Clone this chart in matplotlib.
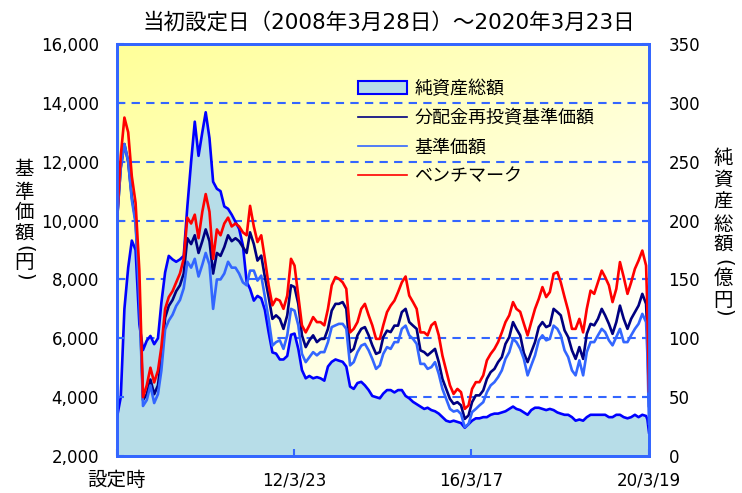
import matplotlib
matplotlib.use("Agg")
import matplotlib.pyplot as plt
import numpy as np
import pandas as pd
from matplotlib.patches import Patch
from matplotlib.lines import Line2D

plt.rcParams['font.family'] = ['DejaVu Sans', 'Noto Sans CJK JP']

# ── data (roughly one point per month) ───────────────────────────────────────
dates = list(pd.date_range("2008-03-28", periods=144, freq=pd.DateOffset(months=1))) \
        + [pd.Timestamp("2020-03-10"), pd.Timestamp("2020-03-23")]

# ベンチマーク (円)
benchmark = [
    10000, 12200, 13500, 13000, 11500, 10600, 8300, 4000, 4400, 5000,
    4500, 4900, 5700, 7000, 7400, 7600, 7900, 8200, 8700, 10100,
    9900, 10200, 9400, 10300, 10900, 10300, 8700, 9700, 9500, 9900,
    10100, 9800, 9900, 9800, 9600, 9500, 10500, 9800, 9270, 9500,
    8700, 7800, 7120, 7340, 7280, 7000, 7450, 8700, 8470, 7450,
    6440, 6200, 6440, 6720, 6550, 6550, 6440, 7000, 7800, 8080,
    8020, 7900, 7680, 6200, 6320, 6550, 7000, 7170, 6780, 6440,
    5980, 5980, 6440, 6890, 7110, 7280, 7570, 7900, 8100, 7450,
    7230, 7000, 6200, 6200, 6100, 6440, 6550, 6100, 5410, 4900,
    4400, 4110, 4280, 4170, 3600, 3720, 4280, 4510, 4510, 4740,
    5250, 5470, 5640, 5870, 6200, 6550, 6780, 7230, 7000, 6900,
    6500, 6100, 6550, 7000, 7340, 7740, 7400, 7570, 8190, 8250,
    7900, 7400, 6940, 6320, 6320, 6660, 6200, 7000, 7620, 7510,
    7900, 8300, 8080, 7800, 7230, 7680, 8590, 8080, 7510, 7900,
    8360, 8640, 8980, 8470, 6890, 4200,
]

# 分配金再投資基準価額 (円)
nav_reinvested = [
    10000, 11800, 12600, 12000, 10800, 10000, 7500, 3900, 4100, 4600,
    4100, 4400, 5300, 6700, 7100, 7300, 7600, 7800, 8200, 9400,
    9200, 9500, 8900, 9300, 9700, 9300, 8200, 8900, 8800, 9100,
    9500, 9300, 9400, 9300, 9100, 8900, 9600, 9200, 8640, 8810,
    8080, 7400, 6660, 6780, 6660, 6320, 6780, 7800, 7740, 7170,
    6100, 5700, 5930, 6100, 5870, 5980, 5980, 6320, 6940, 7170,
    7170, 7230, 7000, 5530, 5640, 6100, 6320, 6380, 6100, 5760,
    5470, 5530, 6040, 6260, 6210, 6430, 6430, 6890, 7000, 6550,
    6430, 6320, 5590, 5530, 5420, 5530, 5640, 5190, 4620, 4280,
    3940, 3770, 3830, 3720, 3260, 3380, 3830, 4060, 4060, 4230,
    4620, 4850, 4960, 5190, 5360, 5810, 6040, 6550, 6320, 6100,
    5500, 5190, 5530, 5870, 6380, 6550, 6380, 6440, 7000, 6890,
    6780, 6270, 6040, 5590, 5300, 5700, 5300, 6150, 6490, 6440,
    6660, 7000, 6780, 6490, 6150, 6550, 7110, 6660, 6320, 6660,
    6890, 7110, 7510, 7170, 6100, 3700,
]

# 基準価額 (円)
nav = [
    10000, 11800, 12600, 12000, 10700, 9900, 7300, 3700, 3900, 4400,
    3800, 4100, 4900, 6300, 6600, 6800, 7100, 7300, 7700, 8600,
    8400, 8700, 8100, 8500, 8900, 8500, 7000, 8000, 8000, 8200,
    8600, 8400, 8400, 8200, 7900, 7800, 8300, 8300, 7960, 8130,
    7400, 6660, 5750, 5870, 5930, 5640, 6100, 7000, 6940, 6440,
    5470, 5190, 5360, 5530, 5420, 5530, 5530, 5870, 6380, 6440,
    6490, 6490, 6320, 5080, 5190, 5530, 5750, 5810, 5590, 5300,
    4960, 5080, 5470, 5700, 5640, 5870, 5870, 6320, 6430, 6100,
    5980, 5810, 5130, 5130, 4960, 5020, 5190, 4790, 4280, 3940,
    3600, 3510, 3550, 3430, 2980, 3090, 3490, 3600, 3720, 3830,
    4170, 4400, 4510, 4680, 4910, 5300, 5530, 5980, 5870, 5640,
    5300, 4740, 5080, 5420, 5930, 6100, 5930, 5980, 6430, 6320,
    6100, 5590, 5360, 4910, 4740, 5250, 4740, 5530, 5870, 5870,
    6100, 6320, 6210, 5930, 5760, 6040, 6320, 5870, 5870, 6100,
    6320, 6490, 6830, 6550, 5420, 3100,
]

# 純資産総額 (億円)
net_assets = [
    33, 50, 125, 160, 183, 175, 112, 90, 98, 102,
    95, 100, 130, 156, 170, 167, 165, 167, 170, 212,
    250, 284, 255, 275, 292, 270, 233, 227, 225, 212,
    210, 205, 199, 193, 179, 148, 142, 132, 136, 134,
    124, 105, 88, 87, 82, 82, 85, 103, 104, 91,
    73, 66, 68, 66, 67, 66, 64, 76, 80, 82,
    81, 80, 76, 59, 57, 62, 63, 60, 56, 51,
    50, 49, 53, 56, 56, 54, 56, 56, 51, 49,
    46, 44, 42, 40, 41, 39, 38, 36, 33, 30,
    29, 30, 29, 28, 24, 27, 30, 32, 32, 33,
    33, 35, 36, 36, 37, 38, 40, 42, 40, 39,
    37, 35, 39, 41, 41, 40, 39, 40, 39, 37,
    36, 35, 35, 33, 30, 31, 30, 33, 35, 35,
    35, 35, 35, 33, 33, 35, 35, 33, 32, 33,
    35, 33, 35, 34, 31, 20,
]

x_tick_dates = [pd.Timestamp(d) for d in ["2008-03-28", "2012-03-23", "2016-03-17", "2020-03-19"]]
x_tick_labels = ["設定時", "12/3/23", "16/3/17", "20/3/19"]
left_ticks = list(range(2000, 16001, 2000))
left_tick_labels = [f"{v:,}" for v in left_ticks]
right_ticks = list(range(0, 351, 50))
right_tick_labels = [str(v) for v in right_ticks]

title = "当初設定日（2008年3月28日）～2020年3月23日"
legend_labels = ["純資産総額", "分配金再投資基準価額", "基準価額", "ベンチマーク"]

# ── styles ───────────────────────────────────────────────────────────────────
FRAME = "#3366FF"
C_FILL, C_NET = "#B7DDE8", "#0000FF"
C_REINV, C_NAV, C_BM = "#000080", "#3366FF", "#FF0000"

W, H = 742, 493
fig = plt.figure(figsize=(W / 100, H / 100), dpi=100)
fig.patch.set_facecolor("white")
rect = [117 / W, (H - 456) / H, (649 - 117) / W, (456 - 44) / H]

# background gradient (yellow top-left -> white bottom-right)
bg = fig.add_axes(rect, zorder=0)
gx, gy = np.meshgrid(np.linspace(0, 1, 300), np.linspace(0, 1, 200))
w = np.clip(1 - (0.5 * gx + 0.7 * gy), 0, 1)
img = np.dstack([np.ones_like(w), np.ones_like(w), 1 - 0.4 * w])
bg.imshow(img, aspect="auto", extent=[0, 1, 0, 1], origin="upper")
bg.axis("off")

ax = fig.add_axes(rect, zorder=2)
ax2 = ax.twinx()
ax2.set_zorder(1)
ax.patch.set_visible(False)
ax2.patch.set_visible(False)

# net assets area (right axis)
ax2.fill_between(dates, net_assets, 0, color=C_FILL, lw=0, zorder=2)
ax2.plot(dates, net_assets, color=C_NET, lw=1.9, zorder=3)
ax2.set_ylim(0, 350)
ax2.set_yticks(right_ticks)
ax2.set_yticklabels(right_tick_labels)
ax2.set_axisbelow(True)
ax2.grid(axis="y", color=FRAME, ls=(0, (4, 3)), lw=1.5)

# price lines (left axis)
ax.plot(dates, nav_reinvested, color=C_REINV, lw=1.9)
ax.plot(dates, nav, color=C_NAV, lw=1.9)
ax.plot(dates, benchmark, color=C_BM, lw=1.9)
ax.set_ylim(2000, 16000)
ax.set_yticks(left_ticks)
ax.set_yticklabels(left_tick_labels)
ax.set_xlim(pd.Timestamp("2008-03-28"), pd.Timestamp("2020-03-23"))
ax.set_xticks(x_tick_dates)
ax.set_xticklabels(x_tick_labels)

for a in (ax, ax2):
    for s in a.spines.values():
        s.set_color(FRAME)
        s.set_linewidth(2)
ax.tick_params(axis="both", direction="in", length=5, width=1.5, color=FRAME,
               labelsize=12, labelcolor="black")
ax.tick_params(axis="y", pad=13)
ax.tick_params(axis="x", pad=11)
ax2.tick_params(axis="y", direction="in", length=5, width=1.5, color=FRAME,
                labelsize=12, labelcolor="black", pad=14)
ax.get_xticklabels()[0].set_fontsize(14)

# legend
handles = [Patch(facecolor=C_FILL, edgecolor=C_NET, lw=1.5),
           Line2D([], [], color=C_REINV, lw=1.2),
           Line2D([], [], color=C_NAV, lw=1.2),
           Line2D([], [], color=C_BM, lw=1.2)]
ax.legend(handles, legend_labels, loc="upper left", bbox_to_anchor=(358 / W, 1 - 80 / H),
          bbox_transform=fig.transFigure, frameon=False, fontsize=13, borderpad=0,
          borderaxespad=0, handlelength=2.72, handletextpad=0.39, labelspacing=0.62)

# title
fig.text(389 / W, 1 - 22 / H, title, ha="center", va="center", fontsize=15.5)

# vertical axis labels, one character at a time
def vlabel(x, items):
    for ch, y, rot in items:
        fig.text(x / W, 1 - y / H, ch, ha="center", va="center", fontsize=14,
                 rotation=rot)

vlabel(24, [("基", 170, 0), ("準", 192, 0), ("価", 213, 0), ("額", 234, 0),
            ("(", 249, -90), ("円", 263, 0), (")", 277, -90)])
vlabel(723, [("純", 158, 0), ("資", 180, 0), ("産", 202, 0), ("総", 224, 0),
             ("額", 245, 0), ("(", 263, -90), ("億", 278, 0), ("円", 300, 0),
             (")", 313, -90)])

fig.savefig("out.png", dpi=100, facecolor="white")
